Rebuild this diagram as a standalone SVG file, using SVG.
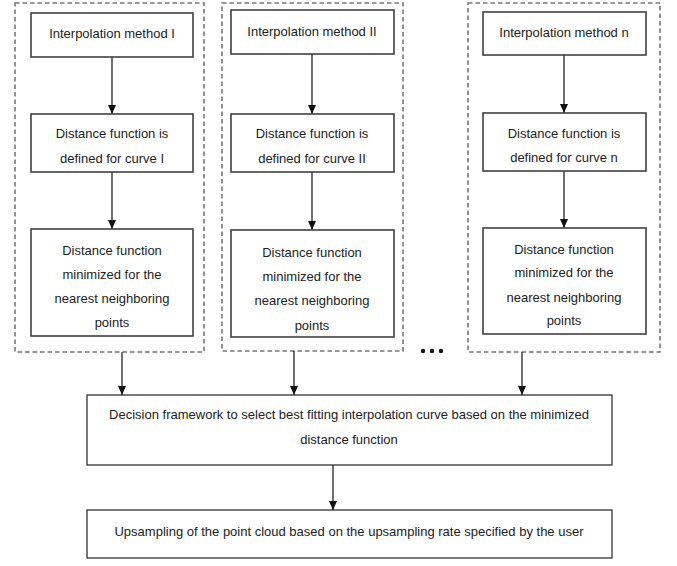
<svg xmlns="http://www.w3.org/2000/svg" width="677" height="566" viewBox="0 0 677 566">
<style>
.grp{fill:none;stroke:#777;stroke-width:1.6;stroke-dasharray:4.5 3}
.box{fill:#fff;stroke:#404040;stroke-width:1.6}
.wbox{fill:#fff;stroke:#222;stroke-width:1.2}
.t{font-family:"Liberation Sans",Arial,sans-serif;font-size:13px;fill:#222;text-anchor:middle}
.c{stroke:#111;stroke-width:1.2;fill:none;marker-end:url(#ah)}
.dot{fill:#111}
</style>
<defs>
<marker id="ah" markerWidth="9" markerHeight="8" refX="9" refY="4" orient="auto" markerUnits="userSpaceOnUse" viewBox="0 0 9 8">
<path d="M0,0 L9,4 L0,8 Z" fill="#111"/>
</marker>
</defs>
<rect width="677" height="566" fill="#fff"/>
<g id="group1"><rect class="grp" x="15" y="3" width="189" height="349"/></g>
<g id="group2"><rect class="grp" x="222" y="3" width="181" height="348"/></g>
<g id="group3"><rect class="grp" x="468" y="3" width="192" height="349"/></g>
<g id="connectors">
<line class="c" x1="112" y1="57" x2="112" y2="114"/>
<line class="c" x1="112" y1="172" x2="112" y2="229"/>
<line class="c" x1="312" y1="54" x2="312" y2="114"/>
<line class="c" x1="312" y1="172" x2="312" y2="230"/>
<line class="c" x1="564" y1="55" x2="564" y2="113"/>
<line class="c" x1="564" y1="171" x2="564" y2="228"/>
<line class="c" x1="122" y1="352" x2="122" y2="395"/>
<line class="c" x1="294" y1="351" x2="294" y2="395"/>
<line class="c" x1="522" y1="352" x2="522" y2="395"/>
<line class="c" x1="333" y1="465" x2="333" y2="510"/>
</g>
<g id="n1a"><rect class="box" x="31" y="13" width="162" height="44"/><text class="t" x="112" y="38">Interpolation method I</text></g>
<g id="n1b"><rect class="box" x="31" y="114" width="162" height="58"/><text class="t" x="112" y="138">Distance function is</text><text class="t" x="112" y="163">defined for curve I</text></g>
<g id="n1c"><rect class="box" x="31" y="229" width="162" height="107"/><text class="t" x="112" y="255">Distance function</text><text class="t" x="112" y="279">minimized for the</text><text class="t" x="112" y="303">nearest neighboring</text><text class="t" x="112" y="327">points</text></g>
<g id="n2a"><rect class="box" x="231" y="10" width="163" height="44"/><text class="t" x="312" y="36">Interpolation method II</text></g>
<g id="n2b"><rect class="box" x="231" y="114" width="163" height="58"/><text class="t" x="312" y="138">Distance function is</text><text class="t" x="312" y="163">defined for curve II</text></g>
<g id="n2c"><rect class="box" x="231" y="230" width="163" height="107"/><text class="t" x="312" y="257">Distance function</text><text class="t" x="312" y="281">minimized for the</text><text class="t" x="312" y="305">nearest neighboring</text><text class="t" x="312" y="330">points</text></g>
<g id="n3a"><rect class="box" x="483" y="12" width="163" height="43"/><text class="t" x="564" y="37">Interpolation method n</text></g>
<g id="n3b"><rect class="box" x="483" y="113" width="163" height="58"/><text class="t" x="564" y="138">Distance function is</text><text class="t" x="564" y="162">defined for curve n</text></g>
<g id="n3c"><rect class="box" x="483" y="228" width="163" height="106"/><text class="t" x="564" y="254">Distance function</text><text class="t" x="564" y="277">minimized for the</text><text class="t" x="564" y="302">nearest neighboring</text><text class="t" x="564" y="325">points</text></g>
<g id="ellipsis"><circle class="dot" cx="423" cy="351" r="2.2"/><circle class="dot" cx="432" cy="351" r="2.2"/><circle class="dot" cx="441" cy="351" r="2.2"/></g>
<g id="decision"><rect class="wbox" x="87" y="395" width="525" height="70"/><text class="t" x="349" y="419">Decision framework to select best fitting  interpolation curve based on the minimized</text><text class="t" x="349" y="444">distance function</text></g>
<g id="upsampling"><rect class="wbox" x="87" y="510" width="525" height="48"/><text class="t" x="349" y="536">Upsampling of the point cloud based on the upsampling rate specified by the user</text></g>
</svg>
